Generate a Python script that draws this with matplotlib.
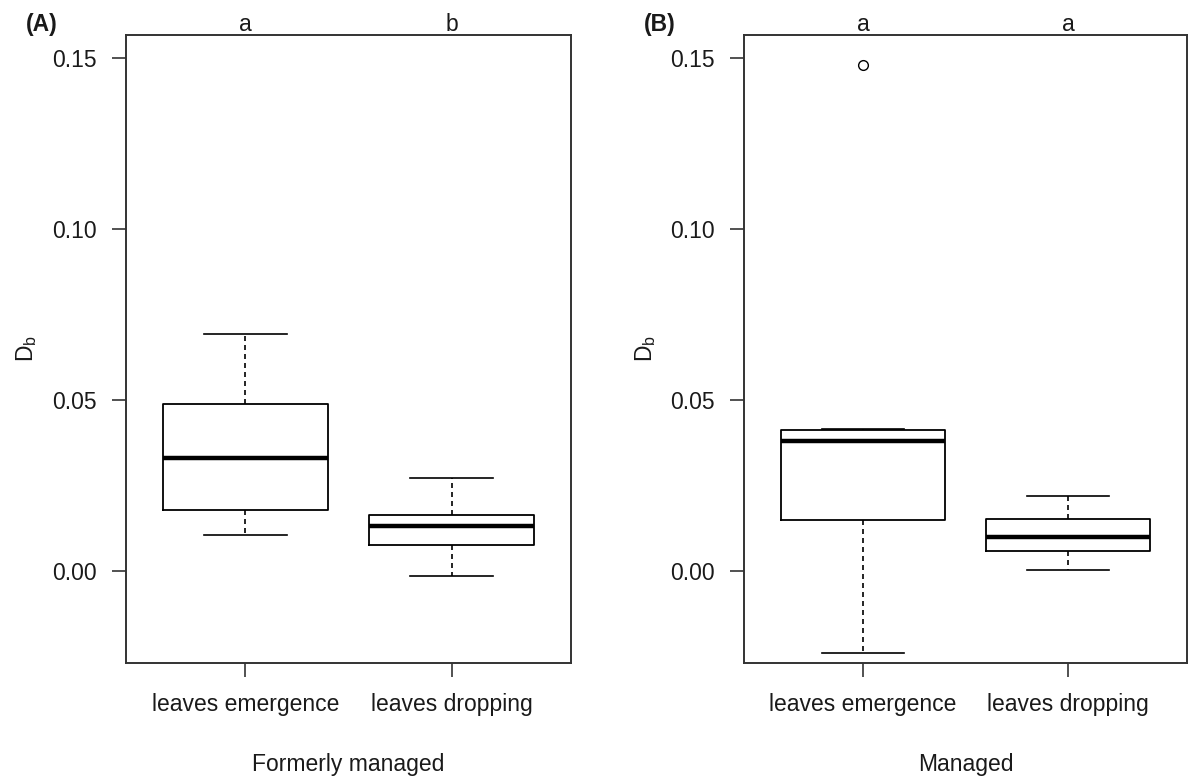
import matplotlib
matplotlib.use('Agg')
import matplotlib.pyplot as plt

plt.rcParams['font.family'] = ['Liberation Sans', 'DejaVu Sans']
plt.rcParams['mathtext.fontset'] = 'custom'
plt.rcParams['mathtext.rm'] = 'Liberation Sans'
plt.rcParams['mathtext.it'] = 'Liberation Sans:italic'

# phenological phases on the x axis
phases = ['leaves emergence', 'leaves dropping']

# five-number summaries of D_b per phase: whisker low, Q1, median, Q3, whisker high
formerly_lo = [0.0106, -0.0013]
formerly_q1 = [0.0178, 0.0076]
formerly_med = [0.0331, 0.0132]
formerly_q3 = [0.0490, 0.0165]
formerly_hi = [0.0694, 0.0272]
formerly_out = [[], []]

managed_lo = [-0.0240, 0.0004]
managed_q1 = [0.0149, 0.0058]
managed_med = [0.0382, 0.0099]
managed_q3 = [0.0413, 0.0152]
managed_hi = [0.0417, 0.0220]
managed_out = [[0.148], []]

# letters from the post-hoc comparison
formerly_letters = ['a', 'b']
managed_letters = ['a', 'a']

yticks = [0.00, 0.05, 0.10, 0.15]
ylim = (-0.0268, 0.1568)

FS = 16.5
INK = '#1a1a1a'


def make_stats(lo, q1, med, q3, hi, out):
    stats = []
    for i in range(len(med)):
        stats.append({'whislo': lo[i], 'q1': q1[i], 'med': med[i],
                      'q3': q3[i], 'whishi': hi[i], 'fliers': out[i]})
    return stats


def panel(ax, stats, letters, xlabel, tag):
    ax.bxp(stats, positions=[1, 2], widths=0.8, showfliers=True,
           boxprops=dict(color='black', linewidth=1.3),
           medianprops=dict(color='black', linewidth=3.2, solid_capstyle='butt'),
           whiskerprops=dict(color='black', linewidth=1.2, linestyle=(0, (3, 2.4))),
           capprops=dict(color='black', linewidth=1.2),
           capwidths=0.4,
           flierprops=dict(marker='o', markersize=7, markerfacecolor='none',
                           markeredgecolor='black', markeredgewidth=1.0))
    ax.set_xlim(0.42, 2.58)
    ax.set_ylim(*ylim)
    ax.set_yticks(yticks)
    ax.set_yticklabels(['%.2f' % v for v in yticks])
    ax.set_xticks([1, 2])
    ax.set_xticklabels(phases)
    for s in ax.spines.values():
        s.set_color('#333333')
        s.set_linewidth(1.4)
    ax.tick_params(axis='both', labelsize=FS, colors='#333333', labelcolor=INK,
                   length=10, width=1.2)
    ax.tick_params(axis='x', pad=11.5)
    ax.tick_params(axis='y', pad=11)
    ax.set_xlabel(xlabel, fontsize=FS, color=INK, labelpad=27)
    ax.set_ylabel(r'$\mathrm{D_b}$', fontsize=FS, color=INK)
    ax.yaxis.set_label_coords(-0.195, 0.5)
    for x, lab in zip([1, 2], letters):
        ax.text(x, 1.007, lab, transform=ax.get_xaxis_transform(),
                ha='center', va='baseline', fontsize=FS, color=INK)
    ax.text(-0.19, 1.007, tag, transform=ax.transAxes, ha='center',
            va='baseline', fontsize=FS, fontweight='bold', color=INK)


fig = plt.figure(figsize=(11.88, 7.8), dpi=100)
ax1 = fig.add_axes([126 / 1188, 1 - 663 / 780, 445 / 1188, 628 / 780])
ax2 = fig.add_axes([744 / 1188, 1 - 663 / 780, 443 / 1188, 628 / 780])

panel(ax1, make_stats(formerly_lo, formerly_q1, formerly_med, formerly_q3,
                      formerly_hi, formerly_out),
      formerly_letters, 'Formerly managed', '(A)')
panel(ax2, make_stats(managed_lo, managed_q1, managed_med, managed_q3,
                      managed_hi, managed_out),
      managed_letters, 'Managed', '(B)')

fig.savefig('out.png', dpi=100)
